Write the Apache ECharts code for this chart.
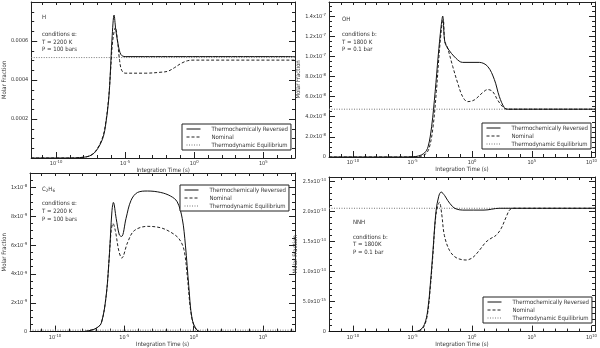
<!DOCTYPE html>
<html>
<head>
<meta charset="utf-8">
<script src="https://cdn.jsdelivr.net/npm/echarts@6/dist/echarts.min.js"></script>
<style>html,body{margin:0;background:#fff}#c{width:600px;height:348px}</style>
</head>
<body>
<div id="c"></div>
<script>
/* x 一律用 log10(积分时间 / s),刻度标签写成 10^n */
const X_LEFT = [-11.8, 7.3]
const X_RIGHT = [-12, 10.3]
const X_LABELS = [-10, -5, 0, 5, 10]

/* H,条件 a */
const H_REV_T = [-11.8, -9, -8.3, -7.6, -7.14, -6.66, -6.43, -6.19, -6.07, -5.95, -5.8, -5.68, -5.5, -5.3, -5.0, -4, 7.3]
const H_REV = [0, 0, 0.000002, 0.00001, 0.000033, 0.000093, 0.00016, 0.0003, 0.00044, 0.00061, 0.000733, 0.00066, 0.00058, 0.00053, 0.00052, 0.00052, 0.00052]
const H_NOM_T = [-11.8, -9, -8.3, -7.6, -7.14, -6.66, -6.43, -6.19, -6.05, -5.9, -5.7, -5.55, -5.4, -5.25, -5.0, -3.5, -2.4, -1.9, -1.43, -0.95, -0.47, 0, 1, 7.3]
const H_NOM = [0, 0, 0.000002, 0.00001, 0.000035, 0.0001, 0.00017, 0.00031, 0.00045, 0.0006, 0.00067, 0.0006, 0.0005, 0.00045, 0.000435, 0.000435, 0.00044, 0.000445, 0.000463, 0.000485, 0.000499, 0.000502, 0.000502, 0.000502]
const H_EQ = 0.000515
const H_TICKS = [0.0002, 0.0004, 0.0006]
const H_TICK_TXT = ['0.0002', '0.0004', '0.0006']

/* OH,条件 b */
const OH_REV_T = [-12, -6, -5, -4.5, -4.0, -3.7, -3.4, -3.1, -2.85, -2.6, -2.47, -2.3, -2.05, -1.35, -0.8, 0.6, 1.3, 1.86, 2.28, 2.7, 3.0, 4, 10.3]
const OH_REV = [0, 0, 2e-10, 1e-9, 4e-9, 1e-8, 3e-8, 6.5e-8, 1.0e-7, 1.3e-7, 1.4e-7, 1.15e-7, 1.08e-7, 9.8e-8, 9.4e-8, 9.4e-8, 9.0e-8, 7.7e-8, 6.0e-8, 4.9e-8, 4.75e-8, 4.75e-8, 4.75e-8]
const OH_NOM_T = [-12, -6, -5, -4.4, -3.9, -3.6, -3.3, -3.0, -2.75, -2.5, -2.42, -2.3, -2.1, -1.63, -1.2, -0.8, -0.38, 0.18, 0.88, 1.3, 1.72, 2.13, 2.55, 2.9, 4, 10.3]
const OH_NOM = [0, 0, 1e-10, 5e-10, 3e-9, 9e-9, 2.8e-8, 6.5e-8, 1.05e-7, 1.35e-7, 1.36e-7, 1.15e-7, 1.1e-7, 9e-8, 7.3e-8, 6e-8, 5.5e-8, 5.67e-8, 6.4e-8, 6.7e-8, 6.5e-8, 5.67e-8, 5.0e-8, 4.75e-8, 4.75e-8, 4.75e-8]
const OH_EQ = 4.75e-8
const OH_TICKS = [0, 2e-8, 4e-8, 6e-8, 8e-8, 1e-7, 1.2e-7, 1.4e-7]
const OH_TICK_TXT = ['0', '2.0x10{s|-8}', '4.0x10{s|-8}', '6.0x10{s|-8}', '8.0x10{s|-8}', '1.0x10{s|-7}', '1.2x10{s|-7}', '1.4x10{s|-7}']

/* C2H6,条件 a */
const C2_REV_T = [-11.8, -8, -7.4, -7.0, -6.66, -6.31, -6.07, -5.9, -5.79, -5.59, -5.36, -5.2, -4.88, -4.52, -4.05, -3.33, -2.38, -1.67, -1.19, -0.83, -0.6, -0.36, -0.12, 0.24, 0.6, 7.3]
const C2_REV = [0, 0, 1e-10, 2.5e-10, 6e-10, 2.5e-9, 5.5e-9, 8.3e-9, 8.96e-9, 7.85e-9, 6.7e-9, 6.6e-9, 7.85e-9, 9.1e-9, 9.65e-9, 9.75e-9, 9.65e-9, 9.4e-9, 9.0e-9, 7.85e-9, 6.0e-9, 3.2e-9, 9e-10, 1e-10, 0, 0]
const C2_NOM_T = [-11.8, -8, -7.4, -7.0, -6.66, -6.31, -6.1, -5.95, -5.82, -5.65, -5.4, -5.19, -4.76, -4.29, -3.33, -2.38, -1.67, -1.07, -0.71, -0.47, -0.24, 0, 0.3, 0.6, 7.3]
const C2_NOM = [0, 0, 1e-10, 2.5e-10, 6e-10, 2.5e-9, 5.0e-9, 7.0e-9, 7.5e-9, 7.0e-9, 5.6e-9, 5.1e-9, 6.2e-9, 7.0e-9, 7.3e-9, 7.2e-9, 6.9e-9, 6.45e-9, 5.7e-9, 3.9e-9, 1.6e-9, 4.4e-10, 5e-11, 0, 0]
const C2_EQ = 1e-10
const C2_TICKS = [0, 2e-9, 4e-9, 6e-9, 8e-9, 1e-8]
const C2_TICK_TXT = ['0', '2x10{s|-9}', '4x10{s|-9}', '6x10{s|-9}', '8x10{s|-9}', '1x10{s|-8}']

/* NNH,条件 b */
const NNH_REV_T = [-12, -5, -4.42, -4.0, -3.72, -3.5, -3.3, -3.03, -2.8, -2.6, -2.3, -2.05, -1.65, -1.35, -0.8, 1.0, 2.28, 4, 10.3]
const NNH_REV = [0, 0, 2e-16, 1.2e-15, 3.6e-15, 8e-15, 1.3e-14, 2.0e-14, 2.25e-14, 2.32e-14, 2.26e-14, 2.18e-14, 2.08e-14, 2.04e-14, 2.02e-14, 2.02e-14, 2.05e-14, 2.05e-14, 2.05e-14]
const NNH_NOM_T = [-12, -5, -4.42, -4.0, -3.72, -3.5, -3.3, -3.03, -2.74, -2.55, -2.33, -1.9, -1.35, -0.51, 0.04, 0.6, 1.16, 1.58, 2.0, 2.42, 2.84, 3.17, 3.5, 5, 10.3]
const NNH_NOM = [0, 0, 1e-16, 1e-15, 3.2e-15, 7.5e-15, 1.25e-14, 1.95e-14, 2.15e-14, 1.95e-14, 1.6e-14, 1.35e-14, 1.23e-14, 1.19e-14, 1.23e-14, 1.35e-14, 1.49e-14, 1.55e-14, 1.6e-14, 1.71e-14, 1.9e-14, 2.03e-14, 2.05e-14, 2.05e-14, 2.05e-14]
const NNH_EQ = 2.05e-14
const NNH_TICKS = [0, 5e-15, 1e-14, 1.5e-14, 2e-14, 2.5e-14]
const NNH_TICK_TXT = ['0', '5.0x10{s|-15}', '1.0x10{s|-14}', '1.5x10{s|-14}', '2.0x10{s|-14}', '2.5x10{s|-14}']

const NAMES = ['Thermochemically Reversed', 'Nominal', 'Thermodynamic Equilibrium']

const FONT = "'DejaVu Sans Condensed', 'Liberation Sans Narrow', 'Liberation Sans', sans-serif"
const INK = '#222'
const TXT = '#333'
const rich = { s: { fontSize: 4.2, fontFamily: FONT, color: TXT, verticalAlign: 'top', padding: [0, 0, 3, 0] } }
const zip = (a, b) => a.map((v, i) => [v, b[i]])
const decades = r => Array.from({ length: Math.floor(r[1]) - Math.ceil(r[0]) + 1 }, (_, i) => Math.ceil(r[0]) + i)

const panels = [
  { grid: { left: 28, top: 2, width: 267, height: 156 }, xr: X_LEFT,
    yMax: 0.0008, yInt: 0.0002, minor: 4, ticks: H_TICKS, txt: H_TICK_TXT, nameGap: 22,
    rev: zip(H_REV_T, H_REV), nom: zip(H_NOM_T, H_NOM), eq: H_EQ,
    legend: { left: 182, top: 124 },
    notes: { x: 42, y: [17, 34, 42, 49], lines: ['H', 'conditions α:', 'T = 2200 K', 'P = 100 bars'] } },
  { grid: { left: 329, top: 2, width: 267, height: 155 }, xr: X_RIGHT,
    yMax: 1.54e-7, yInt: 2e-8, minor: 4, ticks: OH_TICKS, txt: OH_TICK_TXT, nameGap: 27,
    rev: zip(OH_REV_T, OH_REV), nom: zip(OH_NOM_T, OH_NOM), eq: OH_EQ,
    legend: { left: 482, top: 123 },
    notes: { x: 342, y: [19, 34, 42, 49], lines: ['OH', 'conditions b:', 'T = 1800 K', 'P = 0.1 bar'] } },
  { grid: { left: 28, top: 173, width: 267, height: 160 }, xr: X_LEFT,
    yMax: 1.1e-8, yInt: 2e-9, minor: 4, ticks: C2_TICKS, txt: C2_TICK_TXT, nameGap: 22,
    rev: zip(C2_REV_T, C2_REV), nom: zip(C2_NOM_T, C2_NOM), eq: C2_EQ,
    legend: { left: 180, top: 185 },
    notes: { x: 42, y: [189, 203, 211, 219], lines: ['C{b|2}H{b|6}', 'conditions α:', 'T = 2200 K', 'P = 100 bars'] } },
  { grid: { left: 329, top: 177, width: 267, height: 155 }, xr: X_RIGHT,
    yMax: 2.57e-14, yInt: 5e-15, minor: 5, ticks: NNH_TICKS, txt: NNH_TICK_TXT, nameGap: 28.5,
    rev: zip(NNH_REV_T, NNH_REV), nom: zip(NNH_NOM_T, NNH_NOM), eq: NNH_EQ,
    legend: { left: 483, top: 297 },
    notes: { x: 353, y: [222, 237, 244, 252], lines: ['NNH', 'conditions b:', 'T = 1800K', 'P = 0.1 bar'] } },
]

const option = { animation: false, backgroundColor: '#fff',
  grid: [], xAxis: [], yAxis: [], series: [], legend: [], graphic: [] }

const axisLine = { onZero: false, lineStyle: { color: INK, width: 1 } }
const label = { fontSize: 5.5, color: TXT, fontFamily: FONT, rich }

panels.forEach((p, i) => {
  option.grid.push(p.grid)
  const dec = decades(p.xr)
  const xBase = { gridIndex: i, type: 'value', min: p.xr[0], max: p.xr[1], splitLine: { show: false } }
  option.xAxis.push(
    { ...xBase, position: 'bottom', axisLine,
      axisTick: { inside: true, length: 3, customValues: dec, lineStyle: { color: INK } },
      axisLabel: { ...label, margin: 2, customValues: X_LABELS.filter(v => v >= p.xr[0] && v <= p.xr[1]),
        formatter: v => `10{s|${v}}` },
      name: 'Integration Time (s)', nameLocation: 'middle', nameGap: 9,
      nameTextStyle: { fontSize: 6, color: TXT, fontFamily: FONT } },
    { ...xBase, position: 'bottom', axisLine: { show: false, onZero: false },
      axisTick: { inside: true, length: 6, customValues: X_LABELS, lineStyle: { color: INK } },
      axisLabel: { show: false } },
    { ...xBase, position: 'top', axisLine,
      axisTick: { inside: true, length: 3, customValues: dec, lineStyle: { color: INK } },
      axisLabel: { show: false } })
  const yBase = { gridIndex: i, type: 'value', min: 0, max: p.yMax, interval: p.yInt, splitLine: { show: false },
    axisTick: { inside: true, length: 6, lineStyle: { color: INK } },
    minorTick: { show: true, splitNumber: p.minor, length: 3, lineStyle: { color: INK } } }
  option.yAxis.push(
    { ...yBase, position: 'left', axisLine,
      axisLabel: { ...label, margin: 3, customValues: p.ticks,
        formatter: v => p.txt[p.ticks.findIndex(t => Math.abs(t - v) < p.yInt * 1e-3)] ?? '' },
      name: 'Molar Fraction', nameLocation: 'middle', nameRotate: 90, nameGap: p.nameGap,
      nameTextStyle: { fontSize: 6, color: TXT, fontFamily: FONT } },
    { ...yBase, position: 'right', axisLine, axisLabel: { show: false } })

  const common = { xAxisIndex: i * 3, yAxisIndex: i * 2, type: 'line', symbol: 'none', silent: true }
  option.series.push(
    { ...common, name: NAMES[2], data: zip(p.xr, [p.eq, p.eq]),
      lineStyle: { color: '#777', width: 1, type: [1, 1.5] }, itemStyle: { color: '#777' } },
    { ...common, name: NAMES[1], data: p.nom, smooth: 0.35,
      lineStyle: { color: INK, width: 1, type: [3, 2] }, itemStyle: { color: INK } },
    { ...common, name: NAMES[0], data: p.rev, smooth: 0.35,
      lineStyle: { color: '#111', width: 1 }, itemStyle: { color: '#111' } })

  option.legend.push({ ...p.legend, orient: 'vertical', data: NAMES, selectedMode: false,
    itemWidth: 14, itemHeight: 6, itemGap: 2, padding: [2, 3, 2, 4],
    itemStyle: { opacity: 0 }, lineStyle: { width: 1 },
    borderColor: INK, borderWidth: 1, backgroundColor: '#fff',
    textStyle: { fontSize: 6, color: TXT, fontFamily: FONT, padding: [0, 0, 0, 6] } })

  p.notes.lines.forEach((t, k) => option.graphic.push({ type: 'text', x: p.notes.x, y: p.notes.y[k],
    style: { text: t, fill: TXT, font: `6px ${FONT}`, verticalAlign: 'middle',
      rich: { b: { fontSize: 4.5, fontFamily: FONT, fill: TXT, verticalAlign: 'bottom', padding: [3, 0, 0, 0] } } } }))
})

const chart = echarts.init(document.getElementById('c'), null, { renderer: 'canvas' })
chart.setOption(option)
</script>
</body>
</html>
